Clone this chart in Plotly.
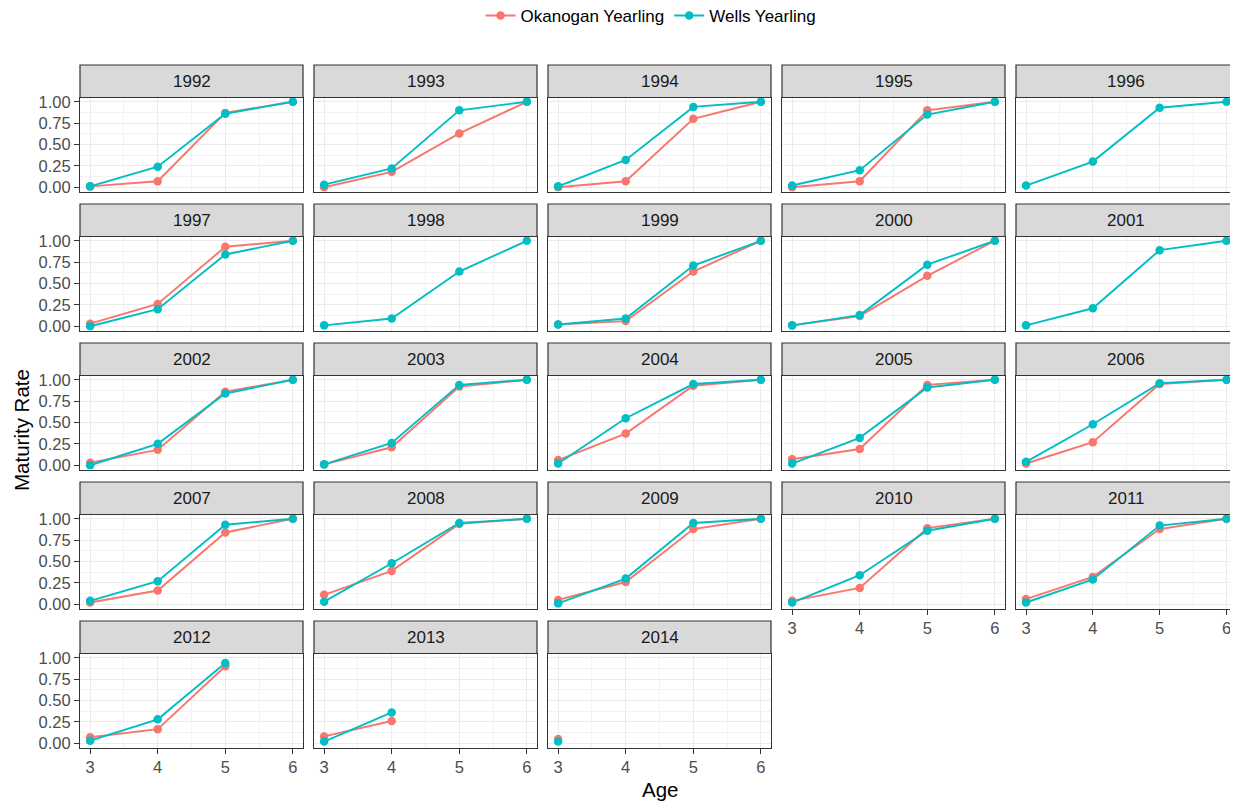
import plotly.graph_objects as go

N = None
years = [1992, 1993, 1994, 1995, 1996, 1997, 1998, 1999, 2000, 2001, 2002,
         2003, 2004, 2005, 2006, 2007, 2008, 2009, 2010, 2011, 2012, 2013, 2014]
ages = [3, 4, 5, 6]

# Okanogan Yearling maturity rate per year (ages 3..6)
okanogan = [
    [0.01, 0.07, 0.87, 1.00],  # 1992
    [0.00, 0.18, 0.63, 1.00],  # 1993
    [0.00, 0.07, 0.80, 1.00],  # 1994
    [0.00, 0.07, 0.90, 1.00],  # 1995
    [N, N, N, N],              # 1996
    [0.03, 0.26, 0.93, 1.00],  # 1997
    [N, N, N, N],              # 1998
    [0.02, 0.06, 0.64, 1.00],  # 1999
    [0.01, 0.12, 0.59, 1.00],  # 2000
    [N, N, N, N],              # 2001
    [0.03, 0.18, 0.86, 1.00],  # 2002
    [0.01, 0.21, 0.92, 1.00],  # 2003
    [0.06, 0.37, 0.93, 1.00],  # 2004
    [0.07, 0.19, 0.94, 1.00],  # 2005
    [0.02, 0.27, 0.95, 1.00],  # 2006
    [0.02, 0.16, 0.84, 1.00],  # 2007
    [0.11, 0.39, 0.94, 1.00],  # 2008
    [0.05, 0.26, 0.88, 1.00],  # 2009
    [0.04, 0.19, 0.89, 1.00],  # 2010
    [0.06, 0.32, 0.88, 1.00],  # 2011
    [0.07, 0.165, 0.90, N],    # 2012
    [0.08, 0.26, N, N],        # 2013
    [0.05, N, N, N],           # 2014
]

# Wells Yearling maturity rate per year (ages 3..6)
wells = [
    [0.01, 0.24, 0.86, 1.00],  # 1992
    [0.03, 0.22, 0.90, 1.00],  # 1993
    [0.01, 0.32, 0.94, 1.00],  # 1994
    [0.02, 0.20, 0.85, 1.00],  # 1995
    [0.02, 0.30, 0.93, 1.00],  # 1996
    [0.00, 0.20, 0.84, 1.00],  # 1997
    [0.01, 0.09, 0.64, 1.00],  # 1998
    [0.02, 0.09, 0.71, 1.00],  # 1999
    [0.01, 0.13, 0.72, 1.00],  # 2000
    [0.01, 0.21, 0.89, 1.00],  # 2001
    [0.00, 0.25, 0.84, 1.00],  # 2002
    [0.01, 0.26, 0.94, 1.00],  # 2003
    [0.02, 0.55, 0.95, 1.00],  # 2004
    [0.02, 0.32, 0.91, 1.00],  # 2005
    [0.04, 0.48, 0.96, 1.00],  # 2006
    [0.04, 0.27, 0.93, 1.00],  # 2007
    [0.03, 0.48, 0.95, 1.00],  # 2008
    [0.01, 0.30, 0.95, 1.00],  # 2009
    [0.02, 0.34, 0.86, 1.00],  # 2010
    [0.02, 0.29, 0.92, 1.00],  # 2011
    [0.03, 0.28, 0.94, N],     # 2012
    [0.02, 0.36, N, N],        # 2013
    [0.02, N, N, N],           # 2014
]

series_names = ["Okanogan Yearling", "Wells Yearling"]
series_data = [okanogan, wells]
colors = ["#F8766D", "#00BFC4"]

# page body has an 8px default margin: figure is placed at (8, 8)
OFF = 8
W, H = 1238 - OFF, 802 - OFF
FONT = "Liberation Sans, Arial, sans-serif"
NCOL = 5
PX_LEFT, PX_STEP, PX_W = 80 - OFF, 234, 223
PY_TOP, PY_STEP, PY_H = 97.5 - OFF, 139, 94
STRIP_H = 32.5

fig = go.Figure()
layout = {}
shapes = []
annotations = []

n = len(years)
bottom_of_col = {}
for i in range(n):
    bottom_of_col[i % NCOL] = i

for i, yr in enumerate(years):
    r, c = divmod(i, NCOL)
    suf = "" if i == 0 else str(i + 1)
    xa, ya = "x" + suf, "y" + suf
    x0 = PX_LEFT + PX_STEP * c
    x1 = min(x0 + PX_W, W - 1.5)
    top = PY_TOP + PY_STEP * r
    bot = top + PY_H
    show_x = bottom_of_col[c] == i
    show_y = c == 0
    layout["xaxis" + suf] = dict(
        domain=[x0 / W, x1 / W], anchor=ya, range=[2.85, 6.15],
        tick0=3, dtick=1, showgrid=True, gridcolor="#EBEBEB", gridwidth=1.4,
        minor=dict(dtick=0.5, tick0=3, showgrid=True, gridcolor="#F2F2F2", gridwidth=0.8, ticks=""),
        showline=True, mirror=True, linecolor="#333333", linewidth=1.2,
        zeroline=False, showticklabels=show_x,
        ticks="outside" if show_x else "", ticklen=5, tickwidth=1.2, tickcolor="#333333",
        tickfont=dict(family=FONT, size=16.5, color="#4D4D4D"),
    )
    layout["yaxis" + suf] = dict(
        domain=[1 - bot / H, 1 - top / H], anchor=xa, range=[-0.05, 1.05],
        tick0=0, dtick=0.25, tickformat=".2f", showgrid=True, gridcolor="#EBEBEB", gridwidth=1.4,
        minor=dict(dtick=0.125, tick0=0, showgrid=True, gridcolor="#F2F2F2", gridwidth=0.8, ticks=""),
        showline=True, mirror=True, linecolor="#333333", linewidth=1.2,
        zeroline=False, showticklabels=show_y,
        ticks="outside" if show_y else "", ticklen=5, tickwidth=1.2, tickcolor="#333333",
        tickfont=dict(family=FONT, size=16.5, color="#4D4D4D"),
    )
    shapes.append(dict(type="rect", xref="paper", yref="paper",
                       x0=x0 / W, x1=x1 / W, y0=1 - top / H, y1=1 - (top - STRIP_H) / H,
                       fillcolor="#D9D9D9", line=dict(color="#333333", width=1.2), layer="above"))
    annotations.append(dict(text=str(yr), xref="paper", yref="paper",
                            x=(x0 + x1) / 2 / W, y=1 - (top - STRIP_H / 2) / H,
                            showarrow=False, xanchor="center", yanchor="middle",
                            font=dict(family=FONT, size=17, color="#1A1A1A")))

    # lines first, then points (ggplot layer order)
    for k, (name, data) in enumerate(zip(series_names, series_data)):
        fig.add_trace(go.Scatter(x=ages, y=data[i], mode="lines", xaxis=xa, yaxis=ya,
                                 line=dict(color=colors[k], width=1.9),
                                 showlegend=False, hoverinfo="skip", connectgaps=False))
    for k, (name, data) in enumerate(zip(series_names, series_data)):
        fig.add_trace(go.Scatter(x=ages, y=data[i], mode="markers", xaxis=xa, yaxis=ya,
                                 marker=dict(color=colors[k], size=8.5),
                                 showlegend=False, name=name))

# legend entries
for k, name in enumerate(series_names):
    fig.add_trace(go.Scatter(x=[None], y=[None], mode="lines+markers", name=name,
                             line=dict(color=colors[k], width=1.9),
                             marker=dict(color=colors[k], size=8.5), showlegend=True))

annotations.append(dict(text="Maturity Rate", xref="paper", yref="paper",
                        x=(21 - OFF) / W, y=1 - (430 - OFF) / H, textangle=-90, showarrow=False,
                        xanchor="center", yanchor="middle",
                        font=dict(family=FONT, size=20.5, color="#000000")))
annotations.append(dict(text="Age", xref="paper", yref="paper",
                        x=(660 - OFF) / W, y=1 - (789 - OFF) / H, showarrow=False,
                        xanchor="center", yanchor="middle",
                        font=dict(family=FONT, size=20.5, color="#000000")))

fig.update_layout(
    width=W, height=H,
    margin=dict(l=0, r=0, t=0, b=0, autoexpand=False),
    paper_bgcolor="white", plot_bgcolor="white",
    shapes=shapes, annotations=annotations,
    showlegend=True,
    legend=dict(orientation="h", x=(651 - OFF) / W, y=1 - (16 - OFF) / H,
                xanchor="center", yanchor="middle",
                font=dict(family=FONT, size=17, color="#000000"),
                itemwidth=30, tracegroupgap=0, bgcolor="rgba(0,0,0,0)"),
    **layout,
)

fig.write_html("out.html")
